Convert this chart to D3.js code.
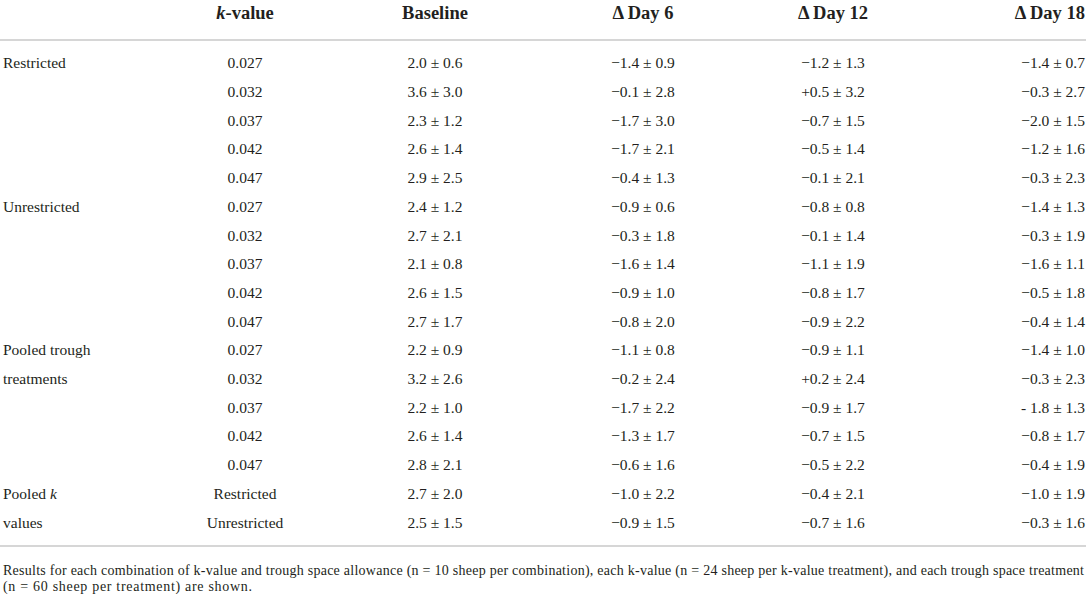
<!DOCTYPE html>
<html>
<head>
<meta charset="utf-8">
<script src="https://cdn.jsdelivr.net/npm/d3@7"></script>
<style>
  body { margin: 0; background: #fff; }
  svg { display: block; font-family: "Liberation Serif", "DejaVu Serif", serif; }
</style>
</head>
<body>
<div id="table"></div>
<script>
// Table contents
const columns = ['k-value', 'Baseline', 'Δ Day 6', 'Δ Day 12', 'Δ Day 18'];
const groupLabels = ['Restricted', '', '', '', '',
                     'Unrestricted', '', '', '', '',
                     'Pooled trough', 'treatments', '', '', '',
                     'Pooled k', 'values'];
const kValues = ['0.027', '0.032', '0.037', '0.042', '0.047',
                 '0.027', '0.032', '0.037', '0.042', '0.047',
                 '0.027', '0.032', '0.037', '0.042', '0.047',
                 'Restricted', 'Unrestricted'];
const baseline = ['2.0 ± 0.6', '3.6 ± 3.0', '2.3 ± 1.2', '2.6 ± 1.4', '2.9 ± 2.5',
                  '2.4 ± 1.2', '2.7 ± 2.1', '2.1 ± 0.8', '2.6 ± 1.5', '2.7 ± 1.7',
                  '2.2 ± 0.9', '3.2 ± 2.6', '2.2 ± 1.0', '2.6 ± 1.4', '2.8 ± 2.1',
                  '2.7 ± 2.0', '2.5 ± 1.5'];
const day6 = ['−1.4 ± 0.9', '−0.1 ± 2.8', '−1.7 ± 3.0', '−1.7 ± 2.1', '−0.4 ± 1.3',
              '−0.9 ± 0.6', '−0.3 ± 1.8', '−1.6 ± 1.4', '−0.9 ± 1.0', '−0.8 ± 2.0',
              '−1.1 ± 0.8', '−0.2 ± 2.4', '−1.7 ± 2.2', '−1.3 ± 1.7', '−0.6 ± 1.6',
              '−1.0 ± 2.2', '−0.9 ± 1.5'];
const day12 = ['−1.2 ± 1.3', '+0.5 ± 3.2', '−0.7 ± 1.5', '−0.5 ± 1.4', '−0.1 ± 2.1',
               '−0.8 ± 0.8', '−0.1 ± 1.4', '−1.1 ± 1.9', '−0.8 ± 1.7', '−0.9 ± 2.2',
               '−0.9 ± 1.1', '+0.2 ± 2.4', '−0.9 ± 1.7', '−0.7 ± 1.5', '−0.5 ± 2.2',
               '−0.4 ± 2.1', '−0.7 ± 1.6'];
const day18 = ['−1.4 ± 0.7', '−0.3 ± 2.7', '−2.0 ± 1.5', '−1.2 ± 1.6', '−0.3 ± 2.3',
               '−1.4 ± 1.3', '−0.3 ± 1.9', '−1.6 ± 1.1', '−0.5 ± 1.8', '−0.4 ± 1.4',
               '−1.4 ± 1.0', '−0.3 ± 2.3', '- 1.8 ± 1.3', '−0.8 ± 1.7', '−0.4 ± 1.9',
               '−1.0 ± 1.9', '−0.3 ± 1.6'];
const footnote = [
  'Results for each combination of k-value and trough space allowance (n = 10 sheep per combination), each k-value (n = 24 sheep per k-value treatment), and each trough space treatment',
  '(n = 60 sheep per treatment) are shown.'
];

const width = 1089, height = 594;
const textColor = '#231f20';
const ruleColor = '#c9c9c9';

const svg = d3.select('#table')
    .append('svg')
    .attr('width', width)
    .attr('height', height);

// column centres (last column is right aligned)
const x = d3.scaleOrdinal()
    .domain(columns)
    .range([245, 435, 643, 833, 1085]);
const anchor = c => c === 'Δ Day 18' ? 'end' : 'middle';

// rows
const rowIdx = d3.range(kValues.length);
const y = d3.scaleBand()
    .domain(rowIdx)
    .range([48.6, 48.6 + 28.7 * kValues.length]);
const cy = i => y(i) + y.bandwidth() / 2;

// header
const header = svg.append('g')
    .attr('font-weight', 'bold')
    .attr('font-size', 18.5)
    .attr('fill', textColor);

header.selectAll('text')
    .data(columns)
    .enter()
    .append('text')
    .attr('x', d => x(d))
    .attr('y', 13)
    .attr('dy', '0.35em')
    .attr('text-anchor', anchor)
    .each(function(d) {
        const t = d3.select(this);
        if (d === 'k-value') {
            t.append('tspan').attr('font-style', 'italic').text('k');
            t.append('tspan').text('-value');
        } else {
            t.text(d);
        }
    });

// rules
svg.append('line')
    .attr('x1', 0).attr('x2', 1086)
    .attr('y1', 40).attr('y2', 40)
    .attr('stroke', ruleColor)
    .attr('stroke-width', 1.5);

svg.append('line')
    .attr('x1', 0).attr('x2', 1086)
    .attr('y1', 546).attr('y2', 546)
    .attr('stroke', ruleColor)
    .attr('stroke-width', 1.5);

// body
const body = svg.append('g')
    .attr('font-size', 15.5)
    .attr('fill', textColor);

// group labels in first column
body.append('g')
    .selectAll('text')
    .data(rowIdx.filter(i => groupLabels[i] !== ''))
    .enter()
    .append('text')
    .attr('x', 3)
    .attr('y', i => cy(i))
    .attr('dy', '0.35em')
    .each(function(i) {
        const t = d3.select(this);
        const label = groupLabels[i];
        if (label === 'Pooled k') {
            t.append('tspan').text('Pooled ');
            t.append('tspan').attr('font-style', 'italic').text('k');
        } else {
            t.text(label);
        }
    });

// value columns
const colData = [kValues, baseline, day6, day12, day18];
columns.forEach((col, ci) => {
    body.append('g')
        .selectAll('text')
        .data(colData[ci])
        .enter()
        .append('text')
        .attr('x', x(col))
        .attr('y', (d, i) => cy(i))
        .attr('dy', '0.35em')
        .attr('text-anchor', anchor(col))
        .text(d => d);
});

// footnote
svg.append('g')
    .attr('font-size', 14)
    .attr('fill', textColor)
    .selectAll('text')
    .data(footnote)
    .enter()
    .append('text')
    .attr('x', 3)
    .attr('y', (d, i) => 570 + i * 16.5)
    .attr('dy', '0.35em')
    .attr('textLength', (d, i) => i === 0 ? 1081 : 249)
    .attr('lengthAdjust', 'spacing')
    .text(d => d);
</script>
</body>
</html>
